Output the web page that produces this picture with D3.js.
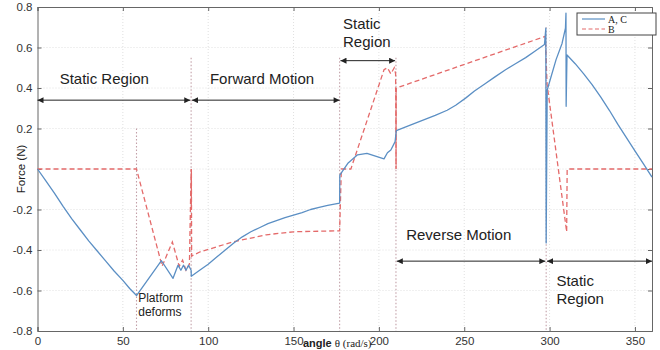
<!DOCTYPE html>
<html>
<head>
<meta charset="utf-8">
<script src="https://cdn.jsdelivr.net/npm/d3@7"></script>
<style>
  body { margin: 0; background: #fff; }
  svg { display: block; }
</style>
</head>
<body>
<div id="chart"></div>
<script>
// data
const xTicks = [0, 50, 100, 150, 200, 250, 300, 350];
const yTicks = [-0.8, -0.6, -0.4, -0.2, 0, 0.2, 0.4, 0.6, 0.8];
const yTickLabels = ["-0.8", "-0.6", "-0.4", "-0.2", "", "0.2", "0.4", "0.6", "0.8"];

// series A, C (solid blue)
const seriesAC = [
  [0, 0], [5, -0.06], [10, -0.12], [15, -0.185], [20, -0.245], [25, -0.3], [30, -0.355],
  [35, -0.405], [40, -0.455], [45, -0.505], [50, -0.55], [54, -0.59], [58, -0.625],
  [72.6, -0.453], [79.4, -0.54], [82.3, -0.475], [84, -0.5], [85.5, -0.475], [87, -0.5],
  [88.5, -0.475], [90, -0.5], [90.1, -0.53],
  [95, -0.5], [100, -0.47], [105, -0.435], [110, -0.4], [115, -0.365], [120, -0.335],
  [125, -0.31], [130, -0.29], [135, -0.27], [140, -0.255], [145, -0.24], [150, -0.228],
  [155, -0.215], [160, -0.2], [165, -0.19], [170, -0.18], [177, -0.168], [177.1, -0.03],
  [182, 0.03], [187.5, 0.07], [193, 0.077], [203, 0.05], [205, 0.08], [207, 0.094],
  [209.5, 0.135], [210.2, 0.19], [218, 0.215], [225.5, 0.24], [233, 0.265], [240, 0.29],
  [245, 0.315], [250.8, 0.35], [256, 0.385], [262, 0.42], [268, 0.455], [274.2, 0.49],
  [280, 0.52], [286, 0.55], [292, 0.585], [297, 0.615], [297.8, 0.695], [298, -0.365],
  [298.6, 0.39], [303.8, 0.54], [307.3, 0.62], [309.3, 0.695], [309.6, 0.77], [309.7, 0.31],
  [310.2, 0.563], [315, 0.52], [320, 0.47], [325, 0.415], [330, 0.355], [335, 0.29],
  [340, 0.22], [345, 0.155], [350, 0.09], [355, 0.025], [360, -0.04]
];

// series B (red dashed)
const seriesB = [
  [0, 0], [58, 0], [73, -0.48], [79, -0.36], [83, -0.48], [85, -0.45], [87, -0.5],
  [89, -0.47], [90, 0], [90.1, -0.2], [90.15, 0], [90.3, -0.43], [95, -0.41], [106.7, -0.38],
  [114.5, -0.36], [134, -0.325], [150, -0.31], [177, -0.305], [178, 0], [183.6, 0], [203, 0.49],
  [205, 0.5], [207, 0.47], [209, 0.5], [209.8, 0.47], [210, 0], [210.05, 0.4], [210.1, 0.0],
  [210.2, 0.4], [297.5, 0.655], [298.5, 0.42], [310, -0.31], [310.3, 0], [360, 0]
];

// region boundaries: [x, top y]
const boundaries = [[58, 0.2], [90, 0.55], [177, 0.55], [210, 0.55], [298, 0.7]];

// region arrows: [x0, x1, y]
const arrows = [[0, 89.5, 0.34], [90.5, 177, 0.34], [177.5, 209.5, 0.535],
  [210.5, 297.5, -0.455], [298.5, 360, -0.455]];

// region labels: [text lines, x, y]
const regionLabels = [
  [["Static Region"], 13, 0.42],
  [["Forward Motion"], 101, 0.42],
  [["Static", "Region"], 179, 0.69],
  [["Reverse Motion"], 216, -0.35],
  [["Static", "Region"], 304, -0.58]
];

const margin = { top: 7, right: 8, bottom: 19, left: 37.5 };
const width = 660, height = 350;
const innerW = width - margin.left - margin.right;
const innerH = height - margin.top - margin.bottom;

const svg = d3.select("#chart").append("svg")
  .attr("width", width)
  .attr("height", height)
  .style("font-family", "Liberation Sans, Arial, sans-serif");

const g = svg.append("g")
  .attr("transform", `translate(${margin.left},${margin.top})`);

const x = d3.scaleLinear().domain([0, 360]).range([0, innerW]);
const y = d3.scaleLinear().domain([-0.8, 0.8]).range([innerH, 0]);

// grid
g.append("g").selectAll("line").data(xTicks.slice(1)).enter().append("line")
  .attr("x1", d => x(d)).attr("x2", d => x(d))
  .attr("y1", 0).attr("y2", innerH)
  .attr("stroke", "#d8d8d8").attr("stroke-width", 0.8)
  .attr("stroke-dasharray", "1,2");
g.append("g").selectAll("line").data(yTicks.slice(1, -1)).enter().append("line")
  .attr("x1", 0).attr("x2", innerW)
  .attr("y1", d => y(d)).attr("y2", d => y(d))
  .attr("stroke", "#d8d8d8").attr("stroke-width", 0.8)
  .attr("stroke-dasharray", "1,2");

// axes (ticks inward like matlab)
const xAxis = g.append("g").attr("transform", `translate(0,${innerH})`)
  .call(d3.axisBottom(x).tickValues(xTicks).tickSize(-4).tickPadding(6).tickFormat(d3.format("d")));
const xAxisTop = g.append("g")
  .call(d3.axisTop(x).tickValues(xTicks).tickSize(-4).tickFormat(""));
const yAxis = g.append("g")
  .call(d3.axisLeft(y).tickValues(yTicks).tickSize(-4).tickPadding(5)
    .tickFormat((d, i) => yTickLabels[i]));
const yAxisRight = g.append("g").attr("transform", `translate(${innerW},0)`)
  .call(d3.axisRight(y).tickValues(yTicks).tickSize(-4).tickFormat(""));

[xAxis, xAxisTop, yAxis, yAxisRight].forEach(a => {
  a.select(".domain").attr("stroke", "#666");
  a.selectAll(".tick line").attr("stroke", "#666");
  a.selectAll("text").style("font-size", "11.5px").attr("fill", "#333");
});

// boundaries
g.append("g").selectAll("line").data(boundaries).enter().append("line")
  .attr("x1", d => x(d[0])).attr("x2", d => x(d[0]))
  .attr("y1", d => y(d[1])).attr("y2", innerH)
  .attr("stroke", "#c2a0a8").attr("stroke-width", 1.1)
  .attr("stroke-dasharray", "1.5,2");

// lines
const line = d3.line().x(d => x(d[0])).y(d => y(d[1]));
g.append("path").datum(seriesB)
  .attr("d", line)
  .attr("fill", "none")
  .attr("stroke", "#e46a6a")
  .attr("stroke-width", 1.3)
  .attr("stroke-dasharray", "5,3");
g.append("path").datum(seriesAC)
  .attr("d", line)
  .attr("fill", "none")
  .attr("stroke", "#5b8fc4")
  .attr("stroke-width", 1.3)
  .attr("stroke-linejoin", "round");

// arrows
svg.append("defs").append("marker")
  .attr("id", "head")
  .attr("viewBox", "0 0 10 10")
  .attr("refX", 10).attr("refY", 5)
  .attr("markerWidth", 7).attr("markerHeight", 6)
  .attr("markerUnits", "userSpaceOnUse")
  .attr("orient", "auto-start-reverse")
  .append("path").attr("d", "M0,0L10,5L0,10z").attr("fill", "#222");

g.append("g").selectAll("line").data(arrows).enter().append("line")
  .attr("x1", d => x(d[0])).attr("x2", d => x(d[1]))
  .attr("y1", d => y(d[2])).attr("y2", d => y(d[2]))
  .attr("stroke", "#222").attr("stroke-width", 1)
  .attr("marker-start", "url(#head)")
  .attr("marker-end", "url(#head)");

// region labels
regionLabels.forEach(r => {
  const t = g.append("text")
    .attr("x", x(r[1])).attr("y", y(r[2]))
    .style("font-size", "15px").attr("fill", "#222");
  r[0].forEach((s, i) => {
    t.append("tspan").attr("x", x(r[1])).attr("dy", i === 0 ? 0 : "1.15em").text(s);
  });
});

const pf = g.append("text").attr("x", x(59)).attr("y", y(-0.655))
  .style("font-size", "12px").attr("fill", "#222");
pf.append("tspan").attr("x", x(59)).text("Platform");
pf.append("tspan").attr("x", x(59)).attr("dy", "1.2em").text("deforms");

// axis labels
const xl = svg.append("text")
  .attr("x", 303).attr("y", 347)
  .style("font-size", "11px").attr("fill", "#222");
xl.append("tspan").style("font-weight", "bold").text("angle ");
xl.append("tspan").style("font-family", "Liberation Serif, serif").text("θ (rad/s)");

svg.append("text")
  .attr("transform", `translate(25,${margin.top + y(0)}) rotate(-90)`)
  .attr("text-anchor", "middle")
  .style("font-size", "11.5px").attr("fill", "#222")
  .text("Force (N)");

// legend
const legendItems = ["A, C", "B"];
const lg = svg.append("g").attr("transform", "translate(577,13)");
lg.append("rect").attr("width", 79).attr("height", 22)
  .attr("fill", "#fff").attr("stroke", "#444").attr("stroke-width", 1);
legendItems.forEach((name, i) => {
  lg.append("line").attr("x1", 5).attr("x2", 28)
    .attr("y1", 6 + i * 10).attr("y2", 6 + i * 10)
    .attr("stroke", i === 0 ? "#5b8fc4" : "#e46a6a")
    .attr("stroke-width", 1.2)
    .attr("stroke-dasharray", i === 0 ? null : "4,2.5");
  lg.append("text").attr("x", 31).attr("y", 9.5 + i * 10)
    .style("font-family", "Liberation Serif, serif").style("font-size", "10px")
    .attr("fill", "#222").text(name);
});
</script>
</body>
</html>
